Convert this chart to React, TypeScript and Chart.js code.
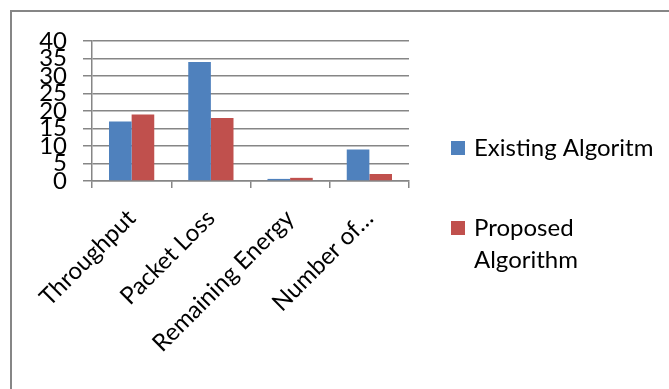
import { useEffect, useRef } from "react";
import { Chart, registerables } from "chart.js";

Chart.register(...registerables);

const categories = ["Throughput", "Packet Loss", "Remaining Energy", "Number of…"];
const existingAlgoritm = [17, 34, 0.6, 9];
const proposedAlgorithm = [19, 18, 0.9, 2];
const seriesNames = ["Existing Algoritm", "Proposed Algorithm"];
const seriesColors = ["#4F81BD", "#C0504D"];
const yTicks = [0, 5, 10, 15, 20, 25, 30, 35, 40];

const FONT = "Lato, 'Open Sans', sans-serif";
const FONT_SIZE = 24;
const AXIS_GREY = "#868686";

// Grey frame along the top and left edges of the chart panel
const framePlugin = {
  id: "frame",
  beforeDraw(chart: any) {
    const { ctx, width, height } = chart;
    ctx.save();
    ctx.strokeStyle = AXIS_GREY;
    ctx.lineWidth = 2;
    ctx.beginPath();
    ctx.moveTo(11, height);
    ctx.lineTo(11, 11);
    ctx.lineTo(width, 11);
    ctx.stroke();
    ctx.restore();
  },
};

// Legend on the right, word-wrapped like an office chart legend
const sideLegendPlugin = {
  id: "sideLegend",
  afterDraw(chart: any) {
    const { ctx } = chart;
    const boxX = 451;
    const textX = 474;
    const maxWidth = 185;
    const lineGap = 32;
    const entryTops = [141, 221];
    ctx.save();
    ctx.font = `${FONT_SIZE}px ${FONT}`;
    ctx.textBaseline = "alphabetic";
    ctx.textAlign = "left";
    chart.data.datasets.forEach((ds: any, i: number) => {
      const top = entryTops[i];
      ctx.fillStyle = ds.backgroundColor;
      ctx.fillRect(boxX, top, 14, 14);
      const words = String(ds.label).split(" ");
      const lines: string[] = [];
      let cur = "";
      for (const w of words) {
        const trial = cur ? cur + " " + w : w;
        if (cur && ctx.measureText(trial).width > maxWidth) {
          lines.push(cur);
          cur = w;
        } else {
          cur = trial;
        }
      }
      if (cur) lines.push(cur);
      ctx.fillStyle = "#000";
      lines.forEach((ln, j) => {
        ctx.fillText(ln, textX, top + 15 + j * lineGap);
      });
    });
    ctx.restore();
  },
};

export default function App() {
  const canvasRef = useRef<HTMLCanvasElement | null>(null);

  useEffect(() => {
    if (!canvasRef.current) return;
    const chart = new Chart(canvasRef.current, {
      type: "bar",
      data: {
        labels: categories,
        datasets: [
          {
            label: seriesNames[0],
            data: existingAlgoritm,
            backgroundColor: seriesColors[0],
            categoryPercentage: 0.571,
            barPercentage: 1,
          },
          {
            label: seriesNames[1],
            data: proposedAlgorithm,
            backgroundColor: seriesColors[1],
            categoryPercentage: 0.571,
            barPercentage: 1,
          },
        ],
      },
      options: {
        responsive: true,
        maintainAspectRatio: false,
        animation: false,
        layout: { padding: { left: 0, top: 41, right: 260, bottom: 0 } },
        plugins: {
          legend: { display: false },
          tooltip: { enabled: false },
        },
        scales: {
          x: {
            offset: true,
            grid: {
              display: true,
              drawOnChartArea: false,
              drawTicks: true,
              tickLength: 7,
              color: AXIS_GREY,
              lineWidth: 1.5,
              offset: true,
            },
            border: { display: true, color: AXIS_GREY, width: 1.5 },
            ticks: {
              minRotation: 45,
              maxRotation: 45,
              autoSkip: false,
              padding: 16,
              color: "#000",
              font: { family: FONT, size: FONT_SIZE },
            },
            afterFit: (s: any) => {
              s.height = 389 - 181;
            },
          },
          y: {
            min: 0,
            max: 40,
            afterBuildTicks: (s: any) => {
              s.ticks = yTicks.map((v) => ({ value: v }));
            },
            grid: { color: AXIS_GREY, lineWidth: 1.5, tickLength: 9 },
            border: { display: true, color: AXIS_GREY, width: 1.5 },
            ticks: {
              autoSkip: false,
              padding: 16,
              color: "#000",
              font: { family: FONT, size: FONT_SIZE, lineHeight: 1 },
            },
            afterFit: (s: any) => {
              s.width = 92;
            },
          },
        },
      },
      plugins: [framePlugin, sideLegendPlugin],
    });
    return () => chart.destroy();
  }, []);

  return (
    <div style={{ position: "fixed", left: 0, top: 0, width: 669, height: 389, background: "#fff" }}>
      <canvas ref={canvasRef} />
    </div>
  );
}
